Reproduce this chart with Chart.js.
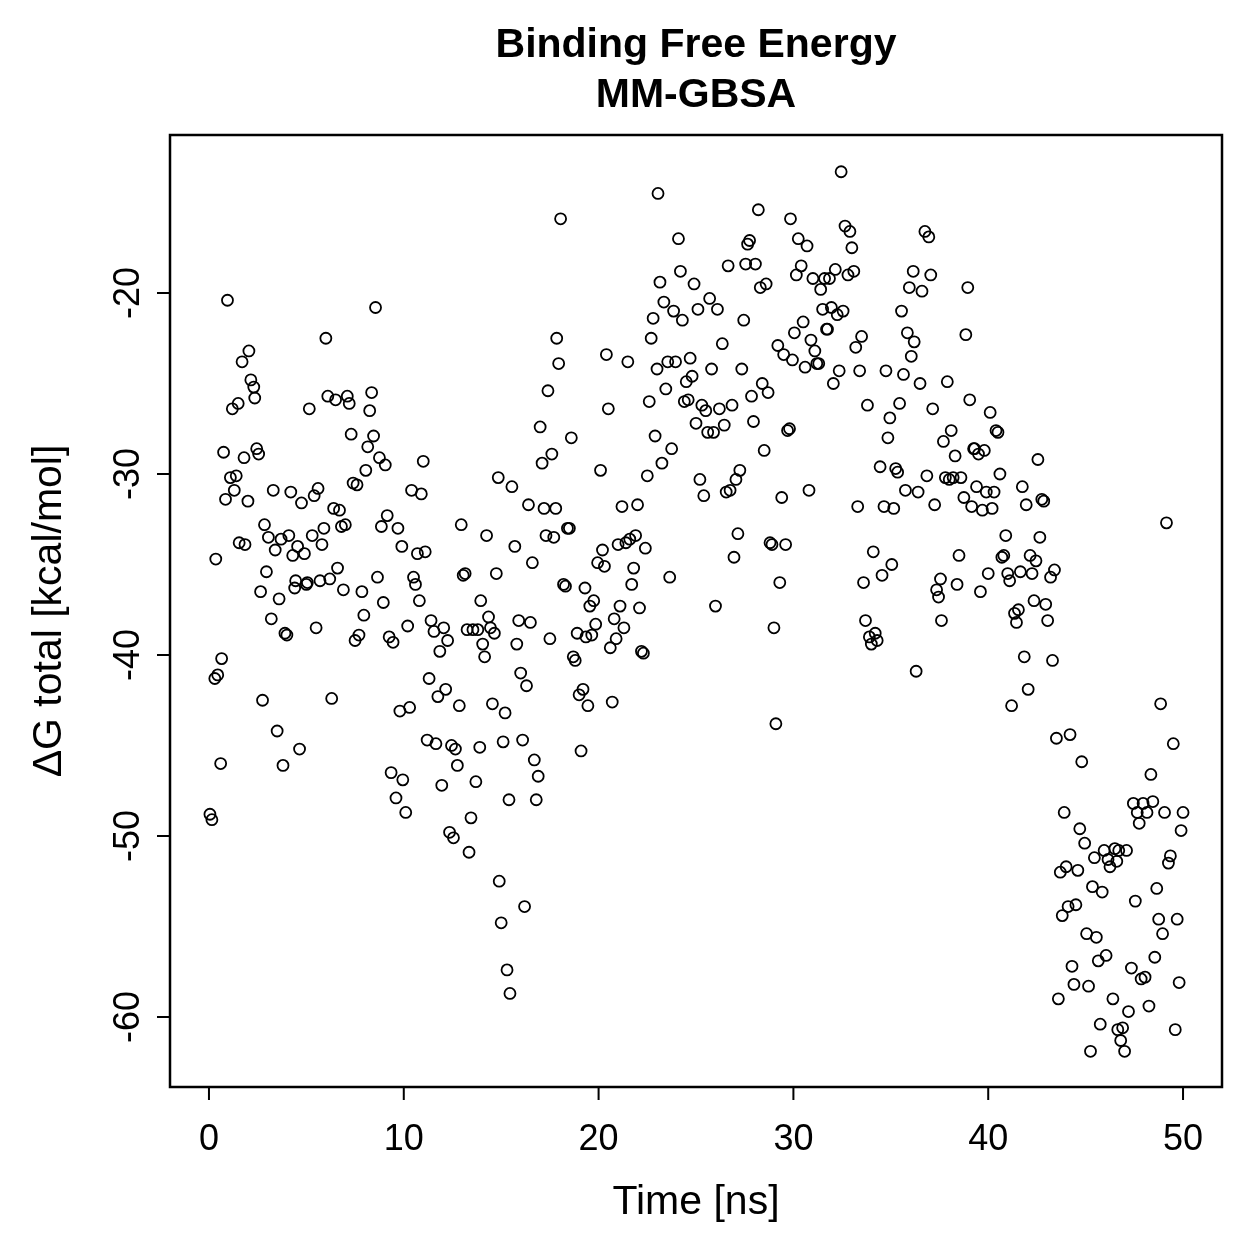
<!DOCTYPE html>
<html>
<head>
<meta charset="utf-8">
<title>Binding Free Energy - MM-GBSA</title>
<script src="https://cdn.jsdelivr.net/npm/chart.js@4.4.0/dist/chart.umd.min.js"></script>
<style>
  html, body { margin: 0; padding: 0; background: #ffffff; }
  #wrap { width: 1259px; height: 1259px; }
</style>
</head>
<body>
<div id="wrap"><canvas id="energy-chart" width="1259" height="1259"></canvas></div>
<script>
// time [ns] and dG total [kcal/mol]
const timeNs = [
  0.05, 0.15, 0.3, 0.35, 0.45, 0.6, 0.65, 0.75, 0.85, 0.95,
  1.1, 1.2, 1.3, 1.4, 1.5, 1.55, 1.7, 1.8, 1.85, 2.0,
  2.05, 2.15, 2.3, 2.35, 2.45, 2.55, 2.65, 2.75, 2.85, 2.95,
  3.05, 3.2, 3.3, 3.4, 3.5, 3.6, 3.7, 3.8, 3.9, 4.0,
  4.1, 4.2, 4.3, 4.4, 4.45, 4.55, 4.65, 4.75, 4.9, 5.0,
  5.05, 5.15, 5.3, 5.4, 5.5, 5.6, 5.7, 5.8, 5.9, 6.0,
  6.1, 6.2, 6.3, 6.4, 6.5, 6.6, 6.7, 6.8, 6.9, 7.0,
  7.1, 7.2, 7.3, 7.4, 7.5, 7.6, 7.7, 7.85, 7.95, 8.05,
  8.15, 8.25, 8.35, 8.45, 8.55, 8.65, 8.75, 8.85, 8.95, 9.05,
  9.15, 9.25, 9.35, 9.45, 9.6, 9.7, 9.8, 9.9, 9.95, 10.1,
  10.2, 10.3, 10.4, 10.5, 10.6, 10.7, 10.8, 10.9, 11.0, 11.1,
  11.2, 11.3, 11.4, 11.55, 11.65, 11.75, 11.85, 11.95, 12.05, 12.15,
  12.25, 12.35, 12.45, 12.55, 12.65, 12.75, 12.85, 12.95, 13.05, 13.15,
  13.25, 13.35, 13.45, 13.55, 13.7, 13.8, 13.9, 13.95, 14.05, 14.15,
  14.25, 14.35, 14.45, 14.55, 14.65, 14.75, 14.85, 14.9, 15.0, 15.1,
  15.2, 15.3, 15.4, 15.45, 15.55, 15.7, 15.8, 15.9, 16.0, 16.1,
  16.2, 16.3, 16.4, 16.5, 16.6, 16.7, 16.8, 16.9, 17.0, 17.1,
  17.2, 17.3, 17.4, 17.5, 17.6, 17.7, 17.8, 17.85, 17.95, 18.05,
  18.2, 18.3, 18.4, 18.5, 18.6, 18.7, 18.8, 18.9, 19.0, 19.1,
  19.2, 19.3, 19.35, 19.45, 19.55, 19.65, 19.75, 19.85, 19.95, 20.1,
  20.2, 20.3, 20.4, 20.5, 20.6, 20.7, 20.8, 20.9, 21.0, 21.1,
  21.2, 21.3, 21.4, 21.5, 21.6, 21.7, 21.8, 21.9, 22.0, 22.1,
  22.2, 22.3, 22.4, 22.5, 22.6, 22.7, 22.8, 22.9, 23.0, 23.05,
  23.15, 23.25, 23.35, 23.45, 23.55, 23.65, 23.75, 23.85, 23.95, 24.1,
  24.2, 24.3, 24.4, 24.5, 24.6, 24.7, 24.8, 24.9, 25.0, 25.1,
  25.2, 25.3, 25.4, 25.5, 25.6, 25.7, 25.8, 25.9, 26.0, 26.1,
  26.2, 26.35, 26.45, 26.55, 26.65, 26.75, 26.85, 26.95, 27.05, 27.15,
  27.25, 27.35, 27.45, 27.55, 27.65, 27.75, 27.85, 27.95, 28.05, 28.2,
  28.3, 28.4, 28.5, 28.6, 28.7, 28.8, 28.9, 29.0, 29.1, 29.2,
  29.3, 29.4, 29.5, 29.6, 29.7, 29.8, 29.85, 29.95, 30.05, 30.15,
  30.25, 30.4, 30.5, 30.6, 30.7, 30.8, 30.9, 31.0, 31.1, 31.2,
  31.3, 31.4, 31.5, 31.6, 31.7, 31.75, 31.85, 31.95, 32.05, 32.15,
  32.25, 32.35, 32.45, 32.55, 32.65, 32.8, 32.9, 33.0, 33.1, 33.2,
  33.3, 33.4, 33.5, 33.6, 33.7, 33.8, 33.9, 34.0, 34.1, 34.2,
  34.3, 34.45, 34.55, 34.65, 34.75, 34.85, 34.95, 35.05, 35.15, 35.25,
  35.35, 35.45, 35.55, 35.65, 35.75, 35.85, 35.95, 36.05, 36.15, 36.2,
  36.3, 36.4, 36.5, 36.6, 36.75, 36.85, 36.95, 37.05, 37.15, 37.25,
  37.35, 37.45, 37.55, 37.6, 37.7, 37.8, 37.9, 38.0, 38.1, 38.2,
  38.3, 38.4, 38.5, 38.6, 38.75, 38.85, 38.95, 39.05, 39.15, 39.25,
  39.3, 39.4, 39.5, 39.6, 39.7, 39.8, 39.9, 40.0, 40.1, 40.2,
  40.3, 40.4, 40.5, 40.6, 40.7, 40.8, 40.9, 41.0, 41.1, 41.2,
  41.35, 41.45, 41.55, 41.65, 41.75, 41.85, 41.95, 42.05, 42.15, 42.25,
  42.35, 42.45, 42.55, 42.65, 42.75, 42.85, 42.95, 43.05, 43.2, 43.3,
  43.4, 43.5, 43.6, 43.7, 43.8, 43.9, 44.0, 44.1, 44.2, 44.3,
  44.4, 44.5, 44.6, 44.7, 44.8, 44.95, 45.05, 45.15, 45.25, 45.35,
  45.45, 45.55, 45.65, 45.75, 45.85, 45.95, 46.05, 46.15, 46.25, 46.4,
  46.5, 46.6, 46.65, 46.7, 46.8, 46.9, 47.0, 47.1, 47.2, 47.35,
  47.45, 47.55, 47.65, 47.75, 47.85, 47.95, 48.05, 48.15, 48.25, 48.35,
  48.45, 48.55, 48.65, 48.75, 48.85, 48.95, 49.05, 49.15, 49.25, 49.35,
  49.5, 49.6, 49.7, 49.8, 49.9, 50.0
];

const deltaG = [
  -48.8, -49.1, -41.3, -34.7, -41.1, -46.0, -40.2, -28.8, -31.4, -20.4,
  -30.2, -26.4, -30.9, -30.1, -26.1, -33.8, -23.8, -29.1, -33.9, -31.5,
  -23.2, -24.8, -25.2, -25.8, -28.6, -28.9, -36.5, -42.5, -32.8, -35.4,
  -33.5, -38.0, -30.9, -34.2, -44.2, -36.9, -33.6, -46.1, -38.8, -38.9,
  -33.4, -31.0, -34.5, -36.3, -35.9, -34.0, -45.2, -31.6, -34.4, -36.1,
  -36.0, -26.4, -33.4, -31.2, -38.5, -30.8, -35.9, -33.9, -33.0, -22.5,
  -25.7, -35.8, -42.4, -31.9, -25.9, -35.2, -32.0, -32.9, -36.4, -32.8,
  -25.7, -26.1, -27.8, -30.5, -39.2, -30.6, -38.9, -36.5, -37.8, -29.8,
  -28.5, -26.5, -25.5, -27.9, -20.8, -35.7, -29.1, -32.9, -37.1, -29.5,
  -32.3, -39.0, -46.5, -39.3, -47.9, -33.0, -43.1, -34.0, -46.9, -48.7,
  -38.4, -42.9, -30.9, -35.7, -36.1, -34.4, -37.0, -31.1, -29.3, -34.3,
  -44.7, -41.3, -38.1, -38.7, -44.9, -42.3, -39.8, -47.2, -38.5, -41.9,
  -39.2, -49.8, -45.0, -50.1, -45.2, -46.1, -42.8, -32.8, -35.6, -35.5,
  -38.6, -50.9, -49.0, -38.6, -47.0, -38.6, -45.1, -37.0, -39.4, -40.1,
  -33.4, -37.9, -38.5, -42.7, -38.8, -35.5, -30.2, -52.5, -54.8, -44.8,
  -43.2, -57.4, -48.0, -58.7, -30.7, -34.0, -39.4, -38.1, -41.0, -44.7,
  -53.9, -41.7, -31.7, -38.2, -34.9, -45.8, -48.0, -46.7, -27.4, -29.4,
  -31.9, -33.4, -25.4, -39.1, -28.9, -33.5, -31.9, -22.5, -23.9, -15.9,
  -36.1, -36.2, -33.0, -33.0, -28.0, -40.1, -40.3, -38.8, -42.2, -45.3,
  -41.9, -36.3, -39.0, -42.8, -37.3, -38.9, -37.0, -38.3, -34.9, -29.8,
  -34.2, -35.1, -23.4, -26.4, -39.6, -42.6, -38.0, -39.1, -33.9, -37.3,
  -31.8, -38.5, -33.8, -23.8, -33.6, -36.1, -35.2, -33.4, -31.7, -37.4,
  -39.8, -39.9, -34.1, -30.1, -26.0, -22.5, -21.4, -27.9, -24.2, -14.5,
  -19.4, -29.4, -20.5, -25.3, -23.8, -35.7, -28.6, -21.0, -23.8, -17.0,
  -18.8, -21.5, -26.0, -24.9, -25.9, -23.6, -24.6, -19.5, -27.2, -20.9,
  -30.3, -26.2, -31.2, -26.5, -27.7, -20.3, -24.2, -27.7, -37.3, -20.9,
  -26.4, -22.8, -27.3, -31.0, -18.5, -30.9, -26.2, -34.6, -30.3, -33.3,
  -29.8, -24.2, -21.5, -18.4, -17.3, -17.1, -25.7, -27.1, -18.4, -15.4,
  -19.7, -25.0, -28.7, -19.5, -25.5, -33.8, -33.9, -38.5, -43.8, -22.9,
  -36.0, -31.3, -23.4, -33.9, -27.6, -27.5, -15.9, -23.7, -22.2, -19.0,
  -17.0, -18.5, -21.6, -24.1, -17.4, -30.9, -22.6, -19.2, -23.2, -23.9,
  -23.9, -19.8, -20.9, -19.2, -22.0, -22.0, -19.2, -20.8, -25.0, -18.7,
  -21.2, -24.3, -13.3, -21.0, -16.3, -19.0, -16.6, -17.5, -18.8, -23.0,
  -31.8, -24.3, -22.4, -36.0, -38.1, -26.2, -39.0, -39.4, -34.3, -38.8,
  -39.2, -29.6, -35.6, -31.8, -24.3, -28.0, -26.9, -35.0, -31.9, -29.7,
  -29.9, -26.1, -21.0, -24.5, -30.9, -22.2, -19.7, -23.5, -18.8, -22.7,
  -40.9, -31.0, -25.0, -19.9, -16.6, -30.1, -16.9, -19.0, -26.4, -31.7,
  -36.4, -36.8, -35.8, -38.1, -28.2, -30.2, -24.9, -30.3, -27.6, -30.2,
  -29.0, -36.1, -34.5, -30.2, -31.3, -22.3, -19.7, -25.9, -31.8, -28.6,
  -28.6, -30.7, -28.9, -36.5, -32.0, -28.7, -31.0, -35.5, -26.6, -31.9,
  -31.0, -27.6, -27.7, -30.0, -34.6, -34.5, -33.4, -35.5, -35.9, -42.8,
  -37.7, -38.2, -37.5, -35.4, -30.7, -40.1, -31.7, -41.9, -34.5, -35.5,
  -37.0, -34.8, -29.2, -33.5, -31.4, -31.5, -37.2, -38.1, -35.7, -40.3,
  -35.3, -44.6, -59.0, -52.0, -54.4, -48.7, -51.7, -53.9, -44.4, -57.2,
  -58.2, -53.8, -51.9, -49.6, -45.9, -50.4, -55.4, -58.3, -61.9, -52.8,
  -51.2, -55.6, -56.9, -60.4, -53.1, -50.8, -56.6, -51.3, -51.7, -59.0,
  -50.7, -51.4, -60.7, -50.8, -61.3, -60.6, -61.9, -50.8, -59.7, -57.3,
  -48.2, -53.6, -48.7, -49.3, -57.9, -48.2, -57.8, -48.7, -59.4, -46.6,
  -48.1, -56.7, -52.9, -54.6, -42.7, -55.4, -48.7, -32.7, -51.5, -51.1,
  -44.9, -60.7, -54.6, -58.1, -49.7, -48.7
];

const xTicks = [0, 10, 20, 30, 40, 50];
const yTicks = [-20, -30, -40, -50, -60];
const titleLines = ['Binding Free Energy', 'MM-GBSA'];
const xLabel = 'Time [ns]';
const yLabel = '\u0394G total [kcal/mol]';

const FONT = '"Liberation Sans", Arial, Helvetica, sans-serif';

const points = timeNs.map((t, i) => ({ x: t, y: deltaG[i] }));

// R base-graphics style frame, ticks and labels, placed through the chart scales
const baseAxes = {
  id: 'baseAxes',
  afterDraw(chart) {
    const ctx = chart.ctx;
    const area = chart.chartArea;
    const xs = chart.scales.x;
    const ys = chart.scales.y;
    const tick = 13;

    ctx.save();
    ctx.strokeStyle = '#000';
    ctx.fillStyle = '#000';
    ctx.lineWidth = 2.5;
    ctx.strokeRect(area.left, area.top, area.right - area.left, area.bottom - area.top);

    ctx.lineWidth = 2;
    ctx.beginPath();
    xTicks.forEach(v => {
      const px = xs.getPixelForValue(v);
      ctx.moveTo(px, area.bottom);
      ctx.lineTo(px, area.bottom + tick);
    });
    yTicks.forEach(v => {
      const py = ys.getPixelForValue(v);
      ctx.moveTo(area.left, py);
      ctx.lineTo(area.left - tick, py);
    });
    ctx.stroke();

    ctx.font = '36px ' + FONT;
    ctx.textAlign = 'center';
    ctx.textBaseline = 'middle';
    xTicks.forEach(v => {
      ctx.fillText(String(v), xs.getPixelForValue(v), area.bottom + 53);
    });
    yTicks.forEach(v => {
      ctx.save();
      ctx.translate(area.left - 41, ys.getPixelForValue(v));
      ctx.rotate(-Math.PI / 2);
      ctx.fillText(String(v), 0, 0);
      ctx.restore();
    });

    const cx = (area.left + area.right) / 2;
    const cy = (area.top + area.bottom) / 2;
    ctx.font = '41px ' + FONT;
    ctx.fillText(xLabel, cx, area.bottom + 116);
    ctx.save();
    ctx.translate(area.left - 120, cy);
    ctx.rotate(-Math.PI / 2);
    ctx.fillText(yLabel, 0, 0);
    ctx.restore();

    ctx.font = 'bold 41px ' + FONT;
    ctx.fillText(titleLines[0], cx, 46);
    ctx.fillText(titleLines[1], cx, 96);
    ctx.restore();
  }
};

const chart = new Chart(document.getElementById('energy-chart'), {
  type: 'scatter',
  data: {
    datasets: [{
      label: 'dG total',
      data: points,
      showLine: false,
      pointStyle: 'circle',
      pointRadius: 5.5,
      pointHoverRadius: 5.5,
      pointBackgroundColor: 'rgba(0,0,0,0)',
      pointBorderColor: '#000000',
      pointBorderWidth: 1.8,
    }],
  },
  options: {
    responsive: false,
    animation: false,
    devicePixelRatio: 1,
    layout: {
      padding: { left: 170, top: 135, right: 37, bottom: 172 },
    },
    plugins: {
      legend: { display: false },
      tooltip: { enabled: false },
      title: { display: false },
    },
    scales: {
      x: {
        type: 'linear',
        display: false,
        min: -2,
        max: 52,
      },
      y: {
        type: 'linear',
        display: false,
        min: -63.87,
        max: -11.27,
      },
    },
  },
  plugins: [baseAxes],
});
</script>
</body>
</html>
